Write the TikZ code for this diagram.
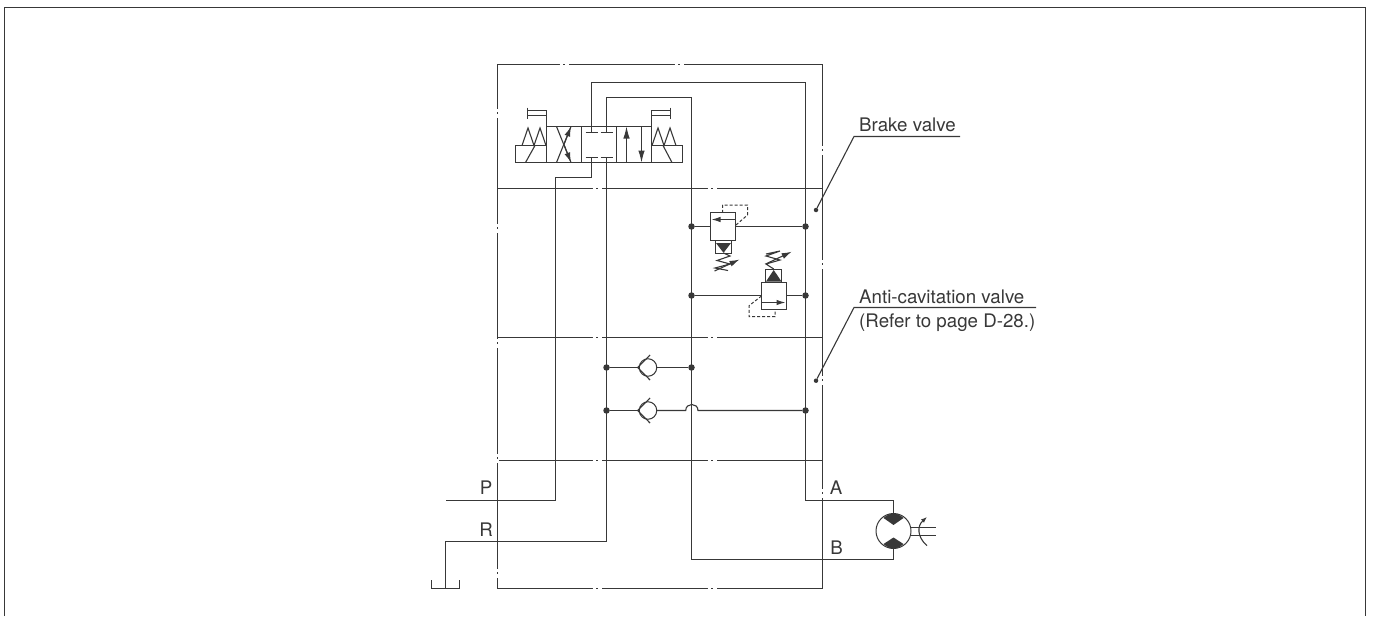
\documentclass[tikz,border=0pt]{standalone}
\usepackage{fontspec}
\setmainfont{TeX Gyre Heros}
\usepackage{tikz}
\usetikzlibrary{arrows.meta}
\definecolor{pipegray}{HTML}{383838}
\tikzset{
	pipe/.style={line width=1.1pt,color=pipegray},
	pilot/.style={line width=1pt,color=pipegray,dash pattern=on 3pt off 2pt},
	flow/.style={pipe,-{Latex[length=12pt,width=6.5pt]}},
	knob/.style={pipe,-{Latex[length=10pt,width=6pt]}},
	cell/.style={draw=pipegray,line width=1.1pt,inner sep=0pt,outer sep=0pt,fill=white},
	ball/.style={circle,draw=pipegray,line width=1pt,inner sep=0pt,outer sep=0pt,minimum size=17.5pt},
	junction/.style={circle,fill=pipegray,inner sep=0pt,minimum size=6.5pt},
	tagdot/.style={circle,fill=pipegray,inner sep=0pt,minimum size=4.5pt},
	label/.style={anchor=base west,inner sep=0pt,text=pipegray,font=\fontsize{18.7}{22}\selectfont},
	port/.style={anchor=base,inner sep=0pt,text=pipegray,font=\fontsize{18.7}{22}\selectfont}
}
\begin{document}
\begin{tikzpicture}[x=1pt,y=-1pt]
	\useasboundingbox (0,0) rectangle (1373,616);

	\draw[pipe] (4.5,616) -- (4.5,7.5) -- (1365.5,7.5) -- (1365.5,616);

	\draw[pipe] (497.5,64.5) rectangle (822.5,588.5);
	\foreach \ly in {188.5,337.5,460.5} {
		\draw[pipe] (497.5,\ly) -- (822.5,\ly);
	}
	\foreach \gx/\gy in {564/64.5,679/64.5,597/188.5,712/188.5,597/337.5,712/337.5,597/460.5,712/460.5,597/588.5,712/588.5} {
		\draw[white,line width=2pt] (\gx-4.5,\gy) -- (\gx+4.5,\gy);
		\draw[pipe] (\gx-1,\gy) -- (\gx+1,\gy);
	}
	\foreach \gx/\gy in {497.5/113,497.5/228,497.5/343,497.5/458,497.5/573,822.5/150,822.5/264,822.5/380,822.5/493} {
		\draw[white,line width=2pt] (\gx,\gy-4.5) -- (\gx,\gy+4.5);
		\draw[pipe] (\gx,\gy-1) -- (\gx,\gy+1);
	}

	\coordinate (portPa) at (591.5,132.5);
	\coordinate (portTa) at (606.5,132.5);
	\coordinate (portPb) at (591.5,157.5);
	\coordinate (portTb) at (606.5,157.5);
	\coordinate (lineAtop) at (805.5,82.5);
	\coordinate (lineBtop) at (691.5,97.5);
	\coordinate (lineAend) at (805.5,500.5);
	\coordinate (lineBend) at (691.5,559.5);
	\coordinate (pressIn) at (445.5,500.5);
	\coordinate (returnOut) at (445.5,541.5);
	\coordinate (tankBase) at (445.5,588.5);

	\node[cell,minimum width=105pt,minimum height=36pt] (spool) at (599,144.5) {};
	\draw[pipe] (581.5,126.5) -- (581.5,162.5);
	\draw[pipe] (616.5,126.5) -- (616.5,162.5);

	\draw[pipe] (portPa) -- (portPa |- lineAtop) -- (lineAtop) -- (lineAend) -- (893.5,500.5) -- (893.5,514);
	\draw[pipe] (portTa) -- (portTa |- lineBtop) -- (lineBtop) -- (lineBend) -- (893.5,559.5) -- (893.5,548);
	\draw[pipe] (portPb) -- (591.5,177.5) -- (555.5,177.5) -- (555.5,500.5) -- (pressIn);
	\draw[pipe] (portTb) -- (606.5,541.5) -- (returnOut) -- (tankBase);
	\draw[pipe] (431.5,580) -- (431.5,588.5) -- (459.5,588.5) -- (459.5,580);

	\foreach \px/\py in {591.5/132.5,606.5/132.5,591.5/157.5,606.5/157.5} {
		\draw[pipe] (\px-6,\py) -- (\px+6,\py);
	}

	\draw[pipe] (556.5,126.5) -- (571,162.5);
	\draw[pipe] (556.5,162.5) -- (571,126.5);
	\draw[knob] (564,144.5) -- (571,126.5);
	\draw[knob] (564,144.5) -- (571,162.5);
	\draw[flow] (626.5,162.5) -- (626.5,126.5);
	\draw[flow] (641.5,126.5) -- (641.5,162.5);

	\node[cell,minimum width=31pt,minimum height=17pt] (solenoidL) at (531,154) {};
	\node[cell,minimum width=31pt,minimum height=17pt] (solenoidR) at (667,154) {};
	\draw[pipe] (522,145.5) -- (528,128) -- (534,145.5) -- (540,128) -- (546,145.5);
	\draw[pipe] (525.5,162.5) -- (535,145.5);
	\draw[pipe] (652,145.5) -- (658,128) -- (664,145.5) -- (670,128) -- (676,145.5);
	\draw[pipe] (663,145.5) -- (672,162.5);

	\draw[pipe] (546.5,126.5) -- (546.5,110.5) -- (527.5,110.5);
	\draw[pipe] (546.5,115.5) -- (527.5,115.5);
	\draw[pipe] (527.5,107.5) -- (527.5,118.5);
	\draw[pipe] (651.5,126.5) -- (651.5,110.5) -- (670.5,110.5);
	\draw[pipe] (651.5,115.5) -- (670.5,115.5);
	\draw[pipe] (670.5,107.5) -- (670.5,118.5);

	\node[junction] (reliefUpL) at (691.5,226.5) {};
	\node[junction] (reliefUpR) at (805.5,226.5) {};
	\node[junction] (reliefLoL) at (691.5,295.5) {};
	\node[junction] (reliefLoR) at (805.5,295.5) {};
	\node[cell,minimum width=25pt,minimum height=28pt] (reliefUp) at (723,226.5) {};
	\node[cell,minimum width=25pt,minimum height=27pt] (reliefLo) at (774,296) {};
	\draw[pipe] (reliefUpL) -- (reliefUp.west);
	\draw[pipe] (reliefUp.east) -- (reliefUpR);
	\draw[pipe] (reliefLoL) -- (reliefLoL -| reliefLo.west);
	\draw[pipe] (reliefLoL -| reliefLo.east) -- (reliefLoR);

	\draw[pipe,-{Latex[length=9pt,width=5.5pt]}] (735.5,219.5) -- (711.5,219.5);
	\draw[pipe,-{Latex[length=9pt,width=5.5pt]}] (761.5,302.5) -- (785.5,302.5);
	\draw[pilot] (736,225) -- (747.5,215) -- (747.5,205) -- (722.5,205) -- (722.5,212.5);
	\draw[pilot] (761.5,296) -- (749,305.7) -- (749,316.7) -- (775,316.7) -- (775,309.5);

	\node[cell,minimum width=16pt,minimum height=13pt] (seatUp) at (723.5,247) {};
	\node[cell,minimum width=16pt,minimum height=13pt] (seatLo) at (773.5,276) {};
	\fill[pipegray] (716,243) -- (731,243) -- (723.5,252.8) -- cycle;
	\fill[pipegray] (766,281.5) -- (781.5,281.5) -- (773.7,270) -- cycle;
	\draw[pipe] (723.5,253) -- (730,256) -- (717,260.5) -- (730,264) -- (715,268) -- (728,270.5);
	\draw[knob] (714.5,271) -- (739.5,259.5);
	\draw[pipe] (773.7,269) -- (766,264) -- (780,260) -- (766,256) -- (780,251) -- (766,254);
	\draw[knob] (765.7,264) -- (791.7,251.7);

	\node[junction] (checkUpL) at (606.5,367.5) {};
	\node[junction] (checkUpR) at (691.5,367.5) {};
	\node[junction] (checkLoL) at (606.5,410.5) {};
	\node[junction] (checkLoR) at (805.5,410.5) {};
	\node[ball] (ballUp) at (648,367.5) {};
	\node[ball] (ballLo) at (648,410.5) {};
	\draw[pipe] (checkUpL) -- (ballUp.west);
	\draw[pipe] (ballUp.east) -- (checkUpR);
	\draw[pipe] (checkLoL) -- (ballLo.west);
	\draw[pipe] (ballLo.east) -- (685.7,410.5) .. controls (685.7,402.5) and (698,402.5) .. (698,410.5) -- (checkLoR);
	\draw[pipe] (650,355) -- (637.7,367.5) -- (650,380);
	\draw[pipe] (650,398) -- (637.7,410.5) -- (650,423);

	\node[circle,draw=pipegray,line width=1pt,inner sep=0pt,minimum size=35pt] (motor) at (893.5,531) {};
	\fill[pipegray] (883.5,518) -- (893.5,525) -- (903.5,518) .. controls (900.5,515.3) and (897.5,513.5) .. (893.5,513.5) .. controls (889.5,513.5) and (886.5,515.3) .. (883.5,518) -- cycle;
	\fill[pipegray] (883.5,544) -- (893.5,537.5) -- (903.5,544) .. controls (900.5,546.7) and (897.5,548.5) .. (893.5,548.5) .. controls (889.5,548.5) and (886.5,546.7) .. (883.5,544) -- cycle;
	\draw[pipe] (911,527.5) -- (936,527.5);
	\draw[pipe] (911,535.5) -- (936,535.5);
	\draw[pipe,-{Latex[length=6pt,width=4.5pt]}] (927,545.7) .. controls (917,537) and (917,526) .. (927,517);

	\node[port] (labelP) at (486,494.5) {P};
	\node[port] (labelR) at (486,536.5) {R};
	\node[port] (labelA) at (836,494.5) {A};
	\node[port] (labelB) at (836.5,554) {B};

	\node[tagdot] (brakeDot) at (816,210) {};
	\node[tagdot] (antiDot) at (816,380.7) {};
	\coordinate (brakeBend) at (854,136.5);
	\coordinate (brakeEnd) at (960,136.5);
	\coordinate (antiBend) at (854,307.5);
	\coordinate (antiEnd) at (1036,307.5);
	\draw[pipe] (brakeDot) -- (brakeBend) -- (brakeEnd);
	\draw[pipe] (antiDot) -- (antiBend) -- (antiEnd);
	\node[label] (brakeText) at (859,131) {Brake valve};
	\node[label] (antiText) at (859,303) {Anti-cavitation valve};
	\node[label] (referText) at (859,327) {(Refer to page D-28.)};
\end{tikzpicture}
\end{document}
